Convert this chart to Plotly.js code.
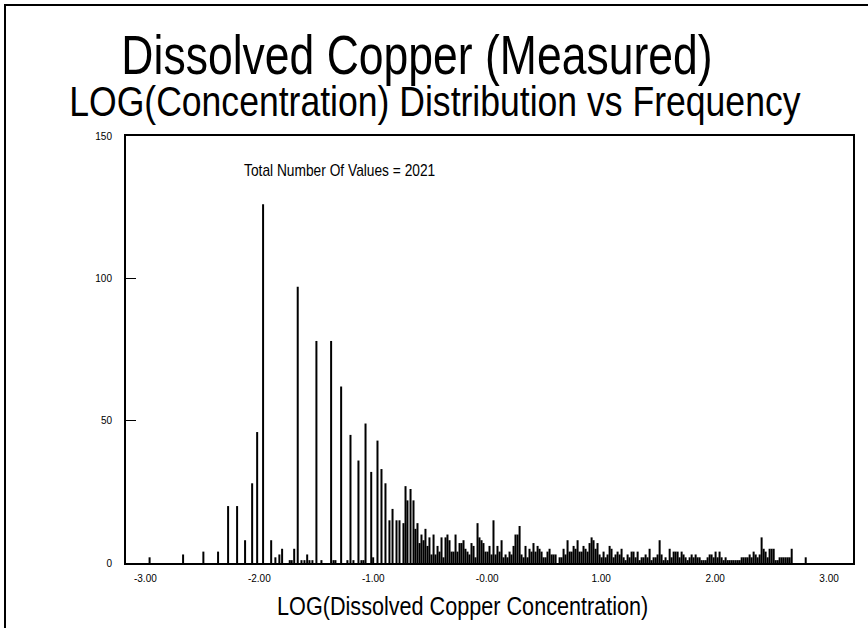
<!DOCTYPE html>
<html>
<head>
<meta charset="utf-8">
<script src="https://cdn.plot.ly/plotly-3.0.1.min.js"></script>
<style>
  html, body { margin: 0; padding: 0; background: #fff; }
  #chart { width: 868px; height: 628px; }
</style>
</head>
<body>
<div id="chart"></div>
<script>
// LOG10 of dissolved copper concentration (bin positions) and counts per bin
const logConc = [
  -2.963, -2.669, -2.491, -2.362, -2.274, -2.195, -2.125, -2.063, -2.019, -1.967,
  -1.896, -1.859, -1.824, -1.800, -1.733, -1.716, -1.694, -1.663, -1.630, -1.604,
  -1.580, -1.560, -1.534, -1.499, -1.455, -1.370, -1.349, -1.332, -1.282, -1.227,
  -1.200, -1.174, -1.130, -1.104, -1.086, -1.068, -1.018, -1.001, -0.963, -0.928,
  -0.893, -0.858, -0.831, -0.796, -0.770, -0.735, -0.717, -0.700, -0.673, -0.647,
  -0.630, -0.612, -0.594, -0.577, -0.559, -0.542, -0.524, -0.507, -0.489, -0.471,
  -0.454, -0.436, -0.419, -0.401, -0.384, -0.366, -0.349, -0.331, -0.313, -0.296,
  -0.278, -0.261, -0.243, -0.226, -0.208, -0.191, -0.173, -0.156, -0.138, -0.120,
  -0.103, -0.085, -0.068, -0.050, -0.033, -0.015, 0.003, 0.020, 0.038, 0.055,
  0.073, 0.090, 0.108, 0.126, 0.143, 0.161, 0.178, 0.196, 0.213, 0.231,
  0.248, 0.266, 0.284, 0.301, 0.319, 0.336, 0.354, 0.371, 0.389, 0.406,
  0.424, 0.442, 0.459, 0.477, 0.494, 0.512, 0.529, 0.547, 0.565, 0.582,
  0.600, 0.635, 0.652, 0.670, 0.687, 0.705, 0.723, 0.740, 0.758, 0.775,
  0.793, 0.810, 0.828, 0.845, 0.863, 0.881, 0.898, 0.916, 0.933, 0.951,
  0.968, 0.986, 1.004, 1.021, 1.039, 1.056, 1.074, 1.091, 1.109, 1.126,
  1.144, 1.162, 1.179, 1.197, 1.214, 1.232, 1.249, 1.267, 1.284, 1.302,
  1.320, 1.337, 1.355, 1.372, 1.390, 1.407, 1.425, 1.442, 1.460, 1.478,
  1.495, 1.513, 1.530, 1.548, 1.565, 1.583, 1.601, 1.618, 1.636, 1.653,
  1.671, 1.688, 1.706, 1.723, 1.741, 1.759, 1.776, 1.794, 1.811, 1.829,
  1.846, 1.864, 1.881, 1.899, 1.917, 1.934, 1.952, 1.969, 1.987, 2.004,
  2.022, 2.039, 2.057, 2.075, 2.092, 2.110, 2.127, 2.145, 2.162, 2.180,
  2.198, 2.215, 2.233, 2.250, 2.268, 2.285, 2.303, 2.320, 2.338, 2.356,
  2.373, 2.391, 2.408, 2.426, 2.443, 2.461, 2.478, 2.496, 2.514, 2.531,
  2.549, 2.566, 2.584, 2.601, 2.619, 2.637, 2.654, 2.672, 2.795
];
const frequency = [
  2, 3, 4, 4, 20, 20, 8, 28, 46, 126,
  8, 2, 3, 5, 1, 1, 5, 97, 1, 1,
  3, 1, 1, 78, 1, 78, 1, 1, 62, 1,
  45, 1, 36, 1, 1, 49, 32, 2, 43, 33,
  28, 15, 19, 15, 15, 14, 27, 22, 26, 22,
  12, 14, 7, 10, 8, 12, 6, 9, 3, 10,
  3, 6, 4, 9, 2, 9, 10, 8, 4, 4,
  10, 4, 7, 7, 8, 5, 4, 3, 7, 6,
  2, 14, 9, 8, 7, 4, 4, 6, 3, 15,
  3, 6, 4, 8, 2, 3, 2, 4, 3, 6,
  10, 10, 13, 3, 2, 6, 2, 5, 4, 7,
  4, 6, 5, 4, 2, 2, 4, 5, 3, 3,
  3, 2, 2, 5, 3, 8, 4, 4, 6, 5,
  8, 4, 4, 6, 5, 4, 7, 9, 8, 5,
  7, 3, 2, 4, 2, 3, 6, 5, 2, 3,
  4, 3, 5, 2, 1, 3, 2, 4, 4, 2,
  4, 1, 2, 2, 3, 2, 5, 1, 2, 2,
  3, 8, 3, 1, 2, 1, 5, 2, 4, 4,
  4, 2, 4, 3, 2, 1, 2, 3, 2, 3,
  2, 2, 1, 1, 1, 2, 3, 3, 2, 4,
  2, 4, 2, 1, 2, 1, 1, 1, 1, 1,
  1, 1, 2, 2, 2, 2, 3, 2, 4, 3,
  2, 3, 9, 5, 4, 2, 5, 5, 5, 1,
  1, 2, 2, 2, 2, 2, 2, 5, 2
];

const xTickVals = [-3, -2, -1, 0, 1, 2, 3];
const xTickText = ['-3.00', '-2.00', '-1.00', '-0.00', '1.00', '2.00', '3.00'];
const yTickVals = [0, 50, 100, 150];
const totalValues = 2021;

const FONT = 'Liberation Sans, Arial, sans-serif';

const trace = {
  type: 'bar',
  x: logConc,
  y: frequency,
  width: 0.0176,
  marker: { color: '#000000', line: { width: 0 } },
  hoverinfo: 'x+y'
};

const layout = {
  width: 868,
  height: 628,
  paper_bgcolor: '#ffffff',
  plot_bgcolor: '#ffffff',
  margin: { l: 126, r: 15, t: 136, b: 65 },
  showlegend: false,
  font: { family: FONT, color: '#000000' },
  title: {
    text: 'Dissolved Copper (Measured)',
    font: { family: FONT, size: 56, color: '#000000' },
    xref: 'container', yref: 'container',
    x: 417 / 868, xanchor: 'center',
    y: 1 - 54 / 628, yanchor: 'middle'
  },
  xaxis: {
    range: [-3.17, 3.21],
    tickmode: 'array',
    tickvals: xTickVals,
    ticktext: xTickText,
    ticks: '',
    tickfont: { family: FONT, size: 10, color: '#000000' },
    ticklabelstandoff: 5,
    showgrid: false,
    zeroline: false,
    showline: true,
    linecolor: '#000000',
    linewidth: 2,
    mirror: true
  },
  yaxis: {
    range: [0, 150],
    tickmode: 'array',
    tickvals: yTickVals,
    ticks: 'inside',
    ticklen: 10,
    tickwidth: 1,
    tickcolor: '#000000',
    tickfont: { family: FONT, size: 10, color: '#000000' },
    ticklabelstandoff: 10,
    showgrid: false,
    zeroline: false,
    showline: true,
    linecolor: '#000000',
    linewidth: 2,
    mirror: true
  },
  annotations: [
    {
      name: 'subtitle',
      text: 'LOG(Concentration) Distribution vs Frequency',
      xref: 'paper', yref: 'paper',
      x: (435 - 126) / 727, y: (563 - 102) / 427,
      xanchor: 'center', yanchor: 'middle',
      showarrow: false,
      font: { family: FONT, size: 42, color: '#000000' }
    },
    {
      name: 'total',
      text: 'Total Number Of Values = ' + totalValues,
      xref: 'paper', yref: 'paper',
      x: (242 - 126) / 727, y: (563 - 170) / 427,
      xanchor: 'left', yanchor: 'middle',
      showarrow: false,
      font: { family: FONT, size: 16, color: '#000000' }
    },
    {
      name: 'xtitle',
      text: 'LOG(Dissolved Copper Concentration)',
      xref: 'paper', yref: 'paper',
      x: (462 - 126) / 727, y: (563 - 606) / 427,
      xanchor: 'center', yanchor: 'middle',
      showarrow: false,
      font: { family: FONT, size: 25, color: '#000000' }
    }
  ],
  shapes: [
    {
      // outer frame around the whole figure
      type: 'rect', xref: 'paper', yref: 'paper',
      x0: (5 - 126) / 727, x1: 1.5,
      y0: -0.5, y1: (563 - 5) / 427,
      line: { color: '#000000', width: 2 },
      fillcolor: 'rgba(0,0,0,0)',
      layer: 'above'
    }
  ]
};

// Condense a text element horizontally about an anchor point of its box
// ('center' or 'left'), keeping any transform it already has.
function condense(el, sx, anchor) {
  const bb = el.getBBox();
  const ax = anchor === 'left' ? bb.x : bb.x + bb.width / 2;
  const prev = el.getAttribute('transform') || '';
  el.setAttribute('transform',
    prev + ' translate(' + ax + ' 0) scale(' + sx + ' 1) translate(' + (-ax) + ' 0)');
}

Plotly.newPlot('chart', [trace], layout, { displayModeBar: false, staticPlot: true })
  .then(function (gd) {
    const title = gd.querySelector('.gtitle');
    if (title) condense(title, 0.795, 'center');
    const ann = gd.querySelectorAll('.annotation-text');
    if (ann[0]) condense(ann[0], 0.847, 'center');
    if (ann[1]) condense(ann[1], 0.86, 'left');
    if (ann[2]) condense(ann[2], 0.865, 'center');
  });
</script>
</body>
</html>
